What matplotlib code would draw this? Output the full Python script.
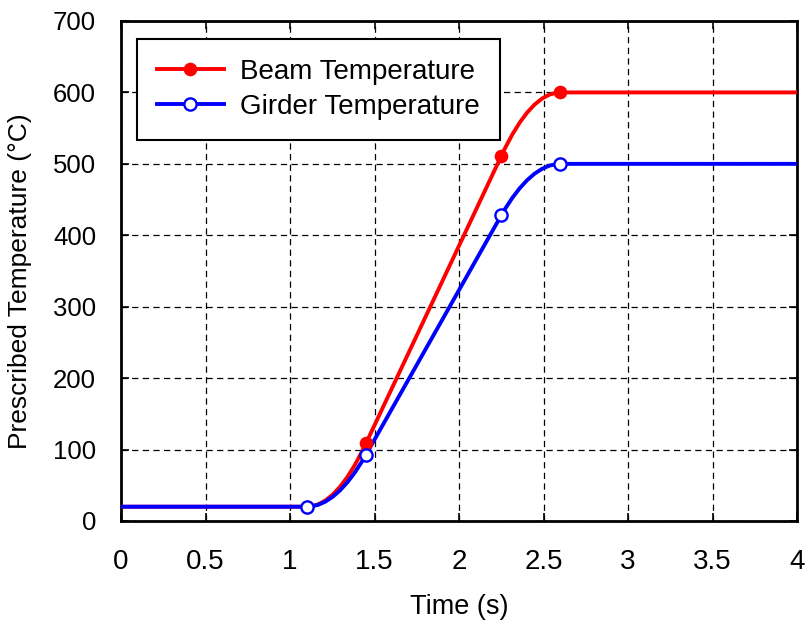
import numpy as np
import matplotlib.pyplot as plt
from matplotlib.path import Path
from matplotlib.patches import PathPatch

plt.rcParams['font.family'] = ['Liberation Sans', 'DejaVu Sans']

# data (knots of the temperature profile)
time = [0.0, 1.1, 1.45, 2.25, 2.6, 4.0]
beam_temp = [20, 20, 109, 511, 600, 600]
girder_temp = [20, 20, 93, 428, 500, 500]
# knots that carry a marker
marker_idx = [1, 2, 3, 4]


def profile_path(t, y):
    # flat, parabolic ramp-up, linear, parabolic ramp-down, flat
    verts = [(t[0], y[0]), (t[1], y[1]),
             ((t[1] + t[2]) / 2, y[1]), (t[2], y[2]),
             (t[3], y[3]),
             ((t[3] + t[4]) / 2, y[4]), (t[4], y[4]),
             (t[5], y[5])]
    codes = [Path.MOVETO, Path.LINETO,
             Path.CURVE3, Path.CURVE3,
             Path.LINETO,
             Path.CURVE3, Path.CURVE3,
             Path.LINETO]
    return Path(verts, codes)


fig = plt.figure(figsize=(8.1, 6.25), dpi=100)
ax = fig.add_axes([0.1494, 0.1664, 0.8346, 0.80])

lw = 2.8
ms = 8.8
for y, col in [(beam_temp, 'red'), (girder_temp, 'blue')]:
    ax.add_patch(PathPatch(profile_path(time, y), facecolor='none',
                           edgecolor=col, lw=lw, capstyle='butt', zorder=3))

mt = [time[i] for i in marker_idx]
ax.plot(mt, [beam_temp[i] for i in marker_idx], ls='none', marker='o',
        ms=ms, color='red', mec='red', zorder=4)
ax.plot(mt, [girder_temp[i] for i in marker_idx], ls='none', marker='o',
        ms=ms, mfc='white', mec='blue', mew=1.7, zorder=5)

# legend proxies
ax.plot([], [], color='red', lw=lw, marker='o', ms=ms, label='Beam Temperature')
ax.plot([], [], color='blue', lw=lw, marker='o', ms=ms, mfc='white', mew=1.7,
        label='Girder Temperature')

ax.set_xlim(0, 4)
ax.set_ylim(0, 700)
ax.set_xticks(np.arange(0, 4.01, 0.5))
ax.set_xticklabels(['0', '0.5', '1', '1.5', '2', '2.5', '3', '3.5', '4'])
ax.set_yticks(np.arange(0, 701, 100))
ax.tick_params(direction='in', top=True, right=True, length=6, width=1.2)
ax.tick_params(axis='x', labelsize=20, pad=20)
ax.tick_params(axis='y', labelsize=18.5, pad=18)
ax.grid(True, color='black', ls=(0, (5, 3.5)), lw=0.9)
for s in ax.spines.values():
    s.set_linewidth(2)

ax.set_xlabel('Time (s)', fontsize=19.5)
ax.set_ylabel('Prescribed Temperature (°C)', fontsize=19)
ax.xaxis.set_label_coords(0.5, -0.146)
ax.yaxis.set_label_coords(-0.131, 0.48)

leg = ax.legend(loc='upper left', bbox_to_anchor=(0.0237, 0.964), fontsize=20,
                fancybox=False, framealpha=1, edgecolor='black',
                handlelength=2.4, handletextpad=0.58, borderpad=0.72,
                labelspacing=0.33, borderaxespad=0)
leg.get_frame().set_linewidth(1.5)

fig.savefig('out.png', dpi=100)
